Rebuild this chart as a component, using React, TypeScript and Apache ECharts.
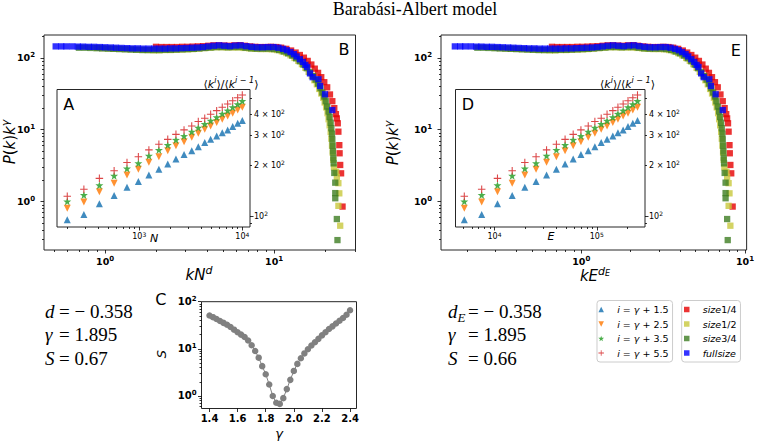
import React, { useEffect, useRef } from 'react';
import * as echarts from 'echarts';

const SANS = 'DejaVu Sans';
const SERIF = 'Liberation Serif';

// ---------------- Panels A / D : <k^i>/<k^{i-1}> versus N (A) and E (D) ----------------
const insetN = [200, 290, 410, 570, 760, 980, 1240, 1550, 1890, 2270, 2720, 3230, 3740, 4320, 4930, 5640, 6390, 7210, 8070, 9020, 10000];
const insetE = [5070, 7500, 10700, 14900, 19800, 25500, 32300, 40300, 49000, 58800, 70000, 82500, 95800, 110500, 126000, 143500, 161000, 181000, 202000, 225000, 250000];
const ratioG15 = [95, 102, 118, 132, 148, 160, 175, 189, 203, 217, 231, 243, 257, 272, 284, 297, 311, 323, 338, 354, 367];
const ratioG25 = [111, 121, 139, 156, 175, 189, 208, 224, 243, 260, 275, 292, 309, 326, 341, 357, 373, 391, 405, 424, 440];
const ratioG35 = [122, 133, 152, 173, 191, 205, 227, 246, 263, 282, 297, 315, 333, 350, 366, 384, 402, 420, 440, 458, 479];
const ratioG55 = [131, 144, 167, 185, 207, 224, 246, 266, 284, 304, 323, 341, 362, 379, 400, 420, 440, 460, 481, 501, 520];
const ratioNames = ['i = γ + 1.5', 'i = γ + 2.5', 'i = γ + 3.5', 'i = γ + 5.5'];

// ---------------- Panels B / E : collapse P(k)k^γ versus kN^d ----------------
const sizeNames = ['size1/4', 'size1/2', 'size3/4', 'fullsize'];
const collapseQuarter = [[2.0,143],[2.15,142],[2.31,142],[2.48,142],[2.66,142],[2.86,143],[3.07,143],[3.3,144],[3.54,145],[3.8,146],[4.08,148],[4.38,150],[4.7,150],[5.05,149],[5.42,148],[5.82,150],[6.25,151],[6.71,148],[7.2,145],[7.73,143],[8.3,142],[8.91,142],[9.57,143],[10.3,142],[11.0,139],[11.8,134],[12.6,127],[13.4,119],[14.2,110],[15.0,101],[15.8,91],[16.6,81],[17.4,71],[18.2,62],[19.0,54],[19.8,46],[20.6,39],[21.4,31],[22.1,25],[22.7,20],[23.2,16.5],[23.5,14.4],[23.8,12.3],[24.0,9.4],[24.3,6.1],[24.4,4.7],[24.6,3.23],[24.9,2.47],[25.4,0.85]];
const collapseHalf = [[0.9,138],[0.97,137],[1.05,136],[1.13,135],[1.22,134],[1.32,133],[1.42,132],[1.54,131],[1.66,130],[1.79,129],[1.94,128],[2.09,128],[2.26,129],[2.44,129],[2.63,130],[2.84,131],[3.07,132],[3.31,133],[3.58,135],[3.86,137],[4.17,139],[4.5,141],[4.86,141],[5.25,140],[5.67,140],[6.12,140],[6.61,138],[7.14,136],[7.71,134],[8.33,133],[9.0,133],[9.7,132],[10.4,129],[11.1,124],[11.8,117],[12.5,109],[13.2,100],[13.9,91],[14.6,82],[15.3,73],[16.0,64],[16.7,56],[17.3,49],[17.9,43],[18.5,37],[19.0,32],[19.5,28],[19.9,24],[20.3,20.5],[20.7,17],[21.0,14],[21.3,11.5],[21.6,9.3],[21.8,7.5],[22.0,6],[22.2,4.8],[22.4,3.8],[22.6,3.0],[23.3,2.6],[23.5,2.2],[24.0,1.8],[24.3,1.3],[24.0,0.87],[24.6,0.46]];
const collapseThreeQuarter = [[0.7,139],[0.76,139],[0.82,138],[0.89,137],[0.96,136],[1.04,135],[1.12,134],[1.21,133],[1.31,132],[1.42,131],[1.53,130],[1.66,129],[1.79,129],[1.94,129],[2.1,129],[2.27,130],[2.45,130],[2.65,131],[2.87,132],[3.1,133],[3.35,134],[3.62,136],[3.92,138],[4.24,140],[4.58,142],[4.95,142],[5.35,141],[5.79,142],[6.26,142],[6.77,139],[7.32,136],[7.91,135],[8.55,135],[9.25,135],[10.0,133],[10.7,129],[11.4,123],[12.1,116],[12.8,108],[13.5,99],[14.2,90],[14.9,81],[15.6,72],[16.3,63],[17.0,56],[17.6,50],[18.2,44],[18.8,38],[19.3,33],[19.8,29],[20.2,25],[20.6,21],[21.0,18],[21.3,15],[21.6,12.5],[21.8,10.5],[22.0,8.8],[22.1,7.3],[22.2,6],[22.3,5],[22.4,4.1],[22.5,3.4],[22.7,2.5],[23.0,1.83],[23.0,1.31],[23.0,1.11],[23.5,0.57],[23.7,0.29]];
const collapseFull = [[0.51,145],[0.55,145],[0.59,145],[0.64,145],[0.69,144],[0.74,144],[0.8,143],[0.86,143],[0.93,142],[1.0,141],[1.08,140],[1.16,139],[1.25,138],[1.35,137],[1.45,136],[1.56,136],[1.68,135],[1.81,135],[1.95,135],[2.1,135],[2.26,135],[2.43,136],[2.62,136],[2.82,137],[3.04,138],[3.27,139],[3.52,140],[3.79,142],[4.08,145],[4.39,148],[4.73,150],[5.09,148],[5.48,146],[5.9,149],[6.35,150],[6.84,146],[7.36,143],[7.93,141],[8.54,141],[9.19,142],[9.9,142],[10.6,139],[11.3,134],[11.9,128],[12.5,121],[13.1,113],[13.6,105],[14.2,96],[14.8,88],[15.3,80],[15.7,75],[16.3,61],[16.9,54],[18.3,50.5],[18.7,40.7],[20.0,31.2],[22.1,18.8]];
// Panel E shows the same points on the kE^{d_E} axis: kE^{d_E} = kN^d · m^{d_E}
const edgeAxisFactor = 3.02;

// ---------------- Panel C : S versus γ ----------------
const gammaGrid = [1.4, 1.425, 1.45, 1.475, 1.5, 1.525, 1.55, 1.575, 1.6, 1.625, 1.65, 1.675, 1.7, 1.725, 1.75, 1.775, 1.8, 1.825, 1.85, 1.875, 1.9, 1.925, 1.95, 1.975, 2.0, 2.025, 2.05, 2.075, 2.1, 2.125, 2.15, 2.175, 2.2, 2.225, 2.25, 2.275, 2.3, 2.325, 2.35, 2.375, 2.4];
const sValues = [51, 47, 43, 39, 35.5, 32.5, 29, 25.5, 22.5, 20, 17.8, 15, 11.9, 9, 6.5, 4.3, 2.9, 1.75, 1.0, 0.72, 0.68, 0.9, 1.4, 2.2, 3.4, 4.8, 6.3, 8.0, 9.8, 11.8, 13.8, 16.3, 19.3, 22.5, 26.3, 30, 34.5, 39.5, 45, 53, 66];

// ---------------- Tick values ----------------
const majorBX = [1, 10];
const minorBX = [0.5, 0.6, 0.7, 0.8, 0.9, 2, 3, 4, 5, 6, 7, 8, 9, 20, 30];
const majorMainY = [1, 10, 100];
const minorMainY = [0.3, 0.4, 0.5, 0.6, 0.7, 0.8, 0.9, 2, 3, 4, 5, 6, 7, 8, 9, 20, 30, 40, 50, 60, 70, 80, 90, 200];
const majorEX = [1, 10];
const minorEX = [0.2, 0.3, 0.4, 0.5, 0.6, 0.7, 0.8, 0.9, 2, 3, 4, 5, 6, 7, 8, 9];
const majorNX = [1000, 10000];
const minorNX = [200, 300, 400, 500, 600, 700, 800, 900, 2000, 3000, 4000, 5000, 6000, 7000, 8000, 9000];
const majorDX = [10000, 100000];
const minorDX = [5000, 6000, 7000, 8000, 9000, 20000, 30000, 40000, 50000, 60000, 70000, 80000, 90000, 200000];
const majorInsetY = [100];
const labelInsetY = [100, 200, 300, 400];
const minorInsetY = [90, 200, 300, 400, 500];
const gammaTicks = [1.4, 1.6, 1.8, 2.0, 2.2, 2.4];
const majorCY = [1, 10, 100];
const minorCY = [0.6, 0.7, 0.8, 0.9, 2, 3, 4, 5, 6, 7, 8, 9, 20, 30, 40, 50, 60, 70, 80, 90];

// ---------------- Symbols ----------------
const TRI_UP = 'path://M1,0L2,2L0,2Z';
const TRI_DOWN = 'path://M0,0L2,0L1,2Z';
const STAR = 'path://M10,0L12.35,6.76L19.51,6.91L13.8,11.24L15.88,18.09L10,14L4.12,18.09L6.2,11.24L0.49,6.91L7.65,6.76Z';
const PLUS = 'path://M0,3L3,3L3,0L4,0L4,3L7,3L7,4L4,4L4,7L3,7L3,4L0,4Z';
const SQUARE = 'path://M0,0L1,0L1,1L0,1Z';

const ratioStyle = [
  { symbol: TRI_UP, color: '#1f77b4', size: 7 },
  { symbol: TRI_DOWN, color: '#ff7f0e', size: 7 },
  { symbol: STAR, color: '#2ca02c', size: 8 },
  { symbol: PLUS, color: '#d62728', size: 7.5 },
];
const sizeColors = ['#e60000', '#c8c83c', '#3d7d22', '#0000ff'];

const tickLine = { color: '#000', width: 0.8 };

const boldRich = (fs: number) => ({
  b: { fontFamily: SANS, fontWeight: 'bold', fontSize: fs, color: '#000' },
  s: { fontFamily: SANS, fontWeight: 'bold', fontSize: Math.round(fs * 0.7), color: '#000', padding: [0, 0, Math.round(fs * 0.6), 0] },
});
const normRich = (fs: number) => ({
  n: { fontFamily: SANS, fontSize: fs, color: '#000' },
  s: { fontFamily: SANS, fontSize: Math.round(fs * 0.7), color: '#000', padding: [0, 0, Math.round(fs * 0.6), 0] },
});
const powBold = (v: number) => `{b|10}{s|${Math.round(Math.log10(v))}}`;
const powNorm = (v: number) => `{n|10}{s|${Math.round(Math.log10(v))}}`;
const insetYFmt = (v: number) => {
  const m = Math.round(v / 100);
  return m === 1 ? '{n|10}{s|2}' : `{n|${m} × 10}{s|2}`;
};

function logAxis(grid: number, min: number, max: number, position: string, ticks: number[], len: number, labels?: number[], formatter?: any, rich?: any, margin?: number) {
  return {
    type: 'log',
    logBase: 10,
    gridIndex: grid,
    min,
    max,
    position,
    axisLine: { show: false },
    splitLine: { show: false },
    minorTick: { show: false },
    axisTick: { show: true, inside: false, length: len, customValues: ticks, lineStyle: tickLine },
    axisLabel: labels
      ? { show: true, customValues: labels, formatter, rich, margin, color: '#000', fontFamily: SANS }
      : { show: false },
  };
}

function text(x: number, y: number, t: string, rich: any, extra: any = {}, rotation = 0) {
  return {
    type: 'text',
    x,
    y,
    rotation,
    silent: true,
    style: { text: t, rich, align: 'center', verticalAlign: 'middle', fill: '#000', ...extra },
  };
}

function serif(x: number, y: number, t: string, italic: boolean, size = 19) {
  return {
    type: 'text',
    x,
    y,
    silent: true,
    style: { text: t, fontFamily: SERIF, fontStyle: italic ? 'italic' : 'normal', fontSize: size, fill: '#000', align: 'left', verticalAlign: 'middle' },
  };
}

export default function App() {
  const ref = useRef<HTMLDivElement>(null);

  useEffect(() => {
    document.body.style.margin = '0';
    if (!ref.current) return;
    const chart = echarts.init(ref.current, undefined, { renderer: 'svg' });

    const grids = [
      { left: 44, top: 35, width: 311.5, height: 215 },      // B
      { left: 57, top: 89.5, width: 193, height: 137.5 },    // A
      { left: 441, top: 35, width: 309, height: 215 },       // E
      { left: 455.5, top: 89.5, width: 189.5, height: 137.5 }, // D
      { left: 201.5, top: 301.7, width: 155, height: 106.8 },  // C
    ].map((g) => ({ ...g, show: true, borderColor: '#262626', borderWidth: 1, backgroundColor: '#fff', containLabel: false }));

    const xAxis = [
      logAxis(0, 0.435, 30.3, 'bottom', majorBX, 3.5, majorBX, powBold, boldRich(9.5), 5),
      logAxis(0, 0.435, 30.3, 'bottom', minorBX, 2),
      logAxis(1, 159, 11880, 'bottom', majorNX, 3.5, majorNX, powNorm, normRich(8), 4),
      logAxis(1, 159, 11880, 'bottom', minorNX, 2),
      logAxis(2, 0.139, 10.24, 'bottom', majorEX, 3.5, majorEX, powBold, boldRich(9.5), 5),
      logAxis(2, 0.139, 10.24, 'bottom', minorEX, 2),
      logAxis(3, 4160, 296000, 'bottom', majorDX, 3.5, majorDX, powNorm, normRich(8), 4),
      logAxis(3, 4160, 296000, 'bottom', minorDX, 2),
      {
        type: 'value', gridIndex: 4, min: 1.343, max: 2.446, position: 'bottom',
        axisLine: { show: false }, splitLine: { show: false },
        axisTick: { show: true, length: 3.5, customValues: gammaTicks, lineStyle: tickLine },
        axisLabel: { show: true, customValues: gammaTicks, margin: 5, formatter: (v: number) => v.toFixed(1), fontFamily: SANS, fontWeight: 'bold', fontSize: 10, color: '#000' },
      },
    ];

    const yAxis = [
      logAxis(0, 0.211, 209, 'left', majorMainY, 3.5, majorMainY, powBold, boldRich(9.5), 9),
      logAxis(0, 0.211, 209, 'left', minorMainY, 2),
      logAxis(1, 86.1, 560, 'right', majorInsetY, 3.5, labelInsetY, insetYFmt, normRich(8), 4),
      logAxis(1, 86.1, 560, 'right', minorInsetY, 2),
      logAxis(2, 0.211, 209, 'left', majorMainY, 3.5, majorMainY, powBold, boldRich(9.5), 9),
      logAxis(2, 0.211, 209, 'left', minorMainY, 2),
      logAxis(3, 86.1, 560, 'right', majorInsetY, 3.5, labelInsetY, insetYFmt, normRich(8), 4),
      logAxis(3, 86.1, 560, 'right', minorInsetY, 2),
      logAxis(4, 0.543, 100, 'left', majorCY, 3.5, majorCY, powBold, boldRich(10), 5),
      logAxis(4, 0.543, 100, 'left', minorCY, 2),
    ];

    const collapseSets = [collapseQuarter, collapseHalf, collapseThreeQuarter, collapseFull];
    const ratioSets = [ratioG15, ratioG25, ratioG35, ratioG55];

    const series: any[] = [];
    // Panel B
    collapseSets.forEach((set, i) => {
      series.push({
        type: 'scatter', name: sizeNames[i], xAxisIndex: 0, yAxisIndex: 0,
        data: set, symbol: 'rect', symbolSize: 6.3, itemStyle: { color: sizeColors[i] },
      });
    });
    // Panel E
    collapseSets.forEach((set, i) => {
      series.push({
        type: 'scatter', name: sizeNames[i], xAxisIndex: 4, yAxisIndex: 4,
        data: set.map((p) => [p[0] / edgeAxisFactor, p[1]]), symbol: 'rect', symbolSize: 6.3, itemStyle: { color: sizeColors[i] },
      });
    });
    // Panel A
    ratioSets.forEach((vals, i) => {
      series.push({
        type: 'scatter', name: ratioNames[i], xAxisIndex: 2, yAxisIndex: 2, z: 5,
        data: insetN.map((n, j) => [n, vals[j]]), symbol: ratioStyle[i].symbol, symbolSize: ratioStyle[i].size,
        itemStyle: { color: ratioStyle[i].color, opacity: 0.85 },
      });
    });
    // Panel D
    ratioSets.forEach((vals, i) => {
      series.push({
        type: 'scatter', name: ratioNames[i], xAxisIndex: 6, yAxisIndex: 6, z: 5,
        data: insetE.map((e, j) => [e, vals[j]]), symbol: ratioStyle[i].symbol, symbolSize: ratioStyle[i].size,
        itemStyle: { color: ratioStyle[i].color, opacity: 0.85 },
      });
    });
    // Panel C
    series.push({
      type: 'line', name: 'S', xAxisIndex: 8, yAxisIndex: 8,
      data: gammaGrid.map((g, i) => [g, sValues[i]]),
      symbol: 'circle', symbolSize: 6.5, showSymbol: true, showAllSymbol: true,
      lineStyle: { color: '#808080', width: 1 }, itemStyle: { color: '#808080' },
    });

    const legendItalic = { it: { fontFamily: SANS, fontStyle: 'italic', fontSize: 9.5, color: '#000' } };
    const legendBase = {
      orient: 'vertical', top: 300.5, itemWidth: 22, itemHeight: 5.5, itemGap: 2.5,
      backgroundColor: '#fff', borderColor: '#cccccc', borderWidth: 1, borderRadius: 3,
      selectedMode: false,
      textStyle: { fontFamily: SANS, fontSize: 9.5, color: '#000', lineHeight: 12, rich: legendItalic },
    };
    const legend = [
      {
        ...legendBase, left: 597, padding: [3, 4, 3, 1.3],
        data: ratioNames.map((n, i) => ({ name: n, icon: ratioStyle[i].symbol })),
        formatter: (name: string) => `{it|i} = {it|γ} + ${name.split('+ ')[1]}`,
      },
      {
        ...legendBase, left: 681.7, padding: [3, 4, 3, 2.3],
        data: sizeNames.map((n) => ({ name: n, icon: SQUARE })),
        formatter: (name: string) => (name === 'fullsize' ? '{it|fullsize}' : `{it|size}${name.slice(4)}`),
      },
    ];

    const mathIt = (fs: number) => ({
      m: { fontFamily: SANS, fontStyle: 'italic', fontSize: fs, fill: '#000' },
      u: { fontFamily: SANS, fontSize: fs, fill: '#000' },
      s: { fontFamily: SANS, fontStyle: 'italic', fontSize: Math.round(fs * 0.7), fill: '#000', padding: [0, 0, Math.round(fs * 0.6), 0] },
      ss: { fontFamily: SANS, fontStyle: 'italic', fontSize: Math.round(fs * 0.5), fill: '#000', padding: [0, 0, Math.round(fs * 0.35), 0] },
    });
    const letter = { fontFamily: SANS, fontSize: 16 };

    const elements = [
      text(415, 9, 'Barabási-Albert model', undefined, { fontFamily: SERIF, fontSize: 18 }),
      text(10, 142, '{m|P}{u|(}{m|k}{u|)}{m|k}{s|γ}', mathIt(15), {}, Math.PI / 2),
      text(393, 143, '{m|P}{u|(}{m|k}{u|)}{m|k}{s|γ}', mathIt(15), {}, Math.PI / 2),
      text(199, 275, '{m|kN}{s|d}', mathIt(15)),
      text(595, 276, '{m|kE}{s|d}{ss|E}', mathIt(15)),
      text(231, 84, '{u|⟨}{m|k}{s|i}{u|⟩/⟨}{m|k}{s|i − 1}{u|⟩}', mathIt(11)),
      text(627.5, 84, '{u|⟨}{m|k}{s|i}{u|⟩/⟨}{m|k}{s|i − 1}{u|⟩}', mathIt(11)),
      text(154, 238, '{m|N}', mathIt(11)),
      text(551, 236.5, '{m|E}', mathIt(11)),
      text(344, 49, 'B', undefined, letter),
      text(735.7, 50.5, 'E', undefined, letter),
      text(68.7, 104, 'A', undefined, letter),
      text(468, 104, 'D', undefined, letter),
      text(160.8, 299.5, 'C', undefined, letter),
      text(161.7, 354, '{m|S}', mathIt(13), {}, Math.PI / 2),
      text(279, 433, '{m|γ}', mathIt(13)),
      // annotations, left block
      serif(45, 311.5, 'd', true),
      serif(45, 334.5, 'γ', true),
      serif(45, 358, 'S', true),
      serif(59, 311.5, '= − 0.358', false),
      serif(59, 334.5, '= 1.895', false),
      serif(59, 358, '= 0.67', false),
      // annotations, right block
      serif(448, 311.5, 'd', true),
      serif(457.5, 317, 'E', true, 13),
      serif(448, 334.5, 'γ', true),
      serif(448, 358, 'S', true),
      serif(468, 311.5, '= − 0.358', false),
      serif(468, 334.5, '= 1.895', false),
      serif(468, 358, '= 0.66', false),
    ];

    chart.setOption({
      animation: false,
      backgroundColor: '#fff',
      grid: grids,
      xAxis,
      yAxis,
      legend,
      series,
      graphic: { elements },
    });

    return () => chart.dispose();
  }, []);

  return <div ref={ref} style={{ width: 757, height: 442 }} />;
}
